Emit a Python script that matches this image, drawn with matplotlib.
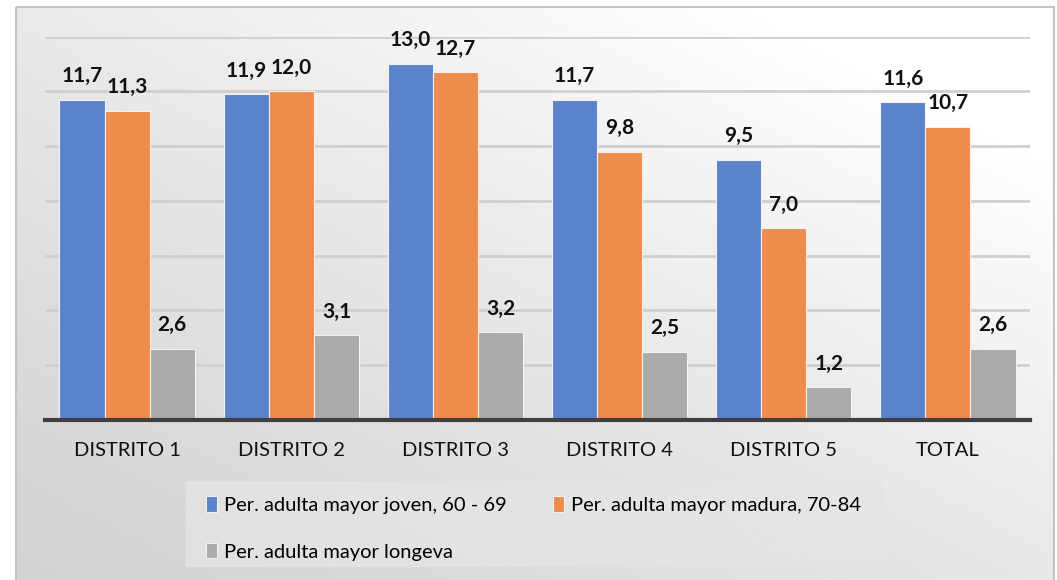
import numpy as np
import matplotlib.pyplot as plt
from matplotlib.patches import Rectangle

# datos
categorias = ["DISTRITO 1", "DISTRITO 2", "DISTRITO 3", "DISTRITO 4", "DISTRITO 5", "TOTAL"]
joven = [11.7, 11.9, 13.0, 11.7, 9.5, 11.6]
madura = [11.3, 12.0, 12.7, 9.8, 7.0, 10.7]
longeva = [2.6, 3.1, 3.2, 2.5, 1.2, 2.6]
series = ["Per. adulta mayor joven, 60 - 69",
          "Per. adulta mayor madura, 70-84",
          "Per. adulta mayor longeva"]
colores = ["#5A83CC", "#EE8C4B", "#ABABAB"]

fuente = ["Lato", "DejaVu Sans"]

fig = plt.figure(figsize=(10.57, 5.8), dpi=100)

# fondo degradado del area del grafico
bg = fig.add_axes([0, 0, 1, 1], zorder=-10)
bg.set_xlim(0, 1057)
bg.set_ylim(580, 0)
bg.axis("off")
gx, gy = np.meshgrid(np.linspace(0, 1, 300), np.linspace(0, 1, 200))
t = np.clip(0.55 * gx + 0.6 * (1 - gy), 0, 1)  # 1 = arriba derecha
grad = 0.83 + 0.17 * t ** 1.3
bg.imshow(grad, cmap="gray", vmin=0, vmax=1, extent=(16, 1054, 585, 7),
          aspect="auto", interpolation="bilinear")
bg.add_patch(Rectangle((16, 7), 1038, 600, fill=False, edgecolor="#c4c4c4", lw=1.5))
# caja de leyenda mas clara
bg.add_patch(Rectangle((186, 481), 699, 86, facecolor="#e6e6e6", edgecolor="none", alpha=0.7))

ax = fig.add_axes([45 / 1057, 160 / 580, 985 / 1057, (420 - 36.6) / 580])
ax.patch.set_alpha(0)

x = np.arange(len(categorias))
w = 0.275
for i, (vals, nombre, col) in enumerate(zip([joven, madura, longeva], series, colores)):
    pos = x + (i - 1) * w
    bars = ax.bar(pos, vals, width=w, color=col, edgecolor="#f2f2f2", linewidth=0.8,
                  label=nombre, zorder=3)
    for b, v in zip(bars, vals):
        ax.annotate(f"{v:.1f}".replace(".", ","),
                    xy=(b.get_x() + b.get_width() / 2, v), xytext=(0, 17),
                    textcoords="offset points", ha="center", va="center",
                    fontsize=15, fontweight="bold", family=fuente, color="#111111")

ax.set_xlim(-0.5, len(categorias) - 0.5)
ax.set_ylim(0, 14)
ax.set_yticks(np.arange(2, 15, 2))
ax.yaxis.grid(True, color="#cfcfcf", lw=2, zorder=0)
ax.tick_params(axis="y", left=False, labelleft=False)
ax.tick_params(axis="x", length=0, pad=16)
ax.set_xticks(x)
ax.set_xticklabels(categorias, fontsize=14.5, family=fuente, color="#111111")
for s in ["top", "right", "left"]:
    ax.spines[s].set_visible(False)
ax.spines["bottom"].set_color("#404040")
ax.spines["bottom"].set_linewidth(3)
ax.spines["bottom"].set_zorder(4)

h, l = ax.get_legend_handles_labels()
orden = [0, 2, 1]
leg = fig.legend([h[k] for k in orden], [l[k] for k in orden], loc="upper left",
                 bbox_to_anchor=(188 / 1057, 1 - 478 / 580),
                 ncol=2, frameon=False, prop={"family": fuente, "size": 14.5},
                 handlelength=0.55, handleheight=0.8, handletextpad=0.35,
                 columnspacing=2.3, labelspacing=1.45)

fig.savefig("out.png", dpi=100)
